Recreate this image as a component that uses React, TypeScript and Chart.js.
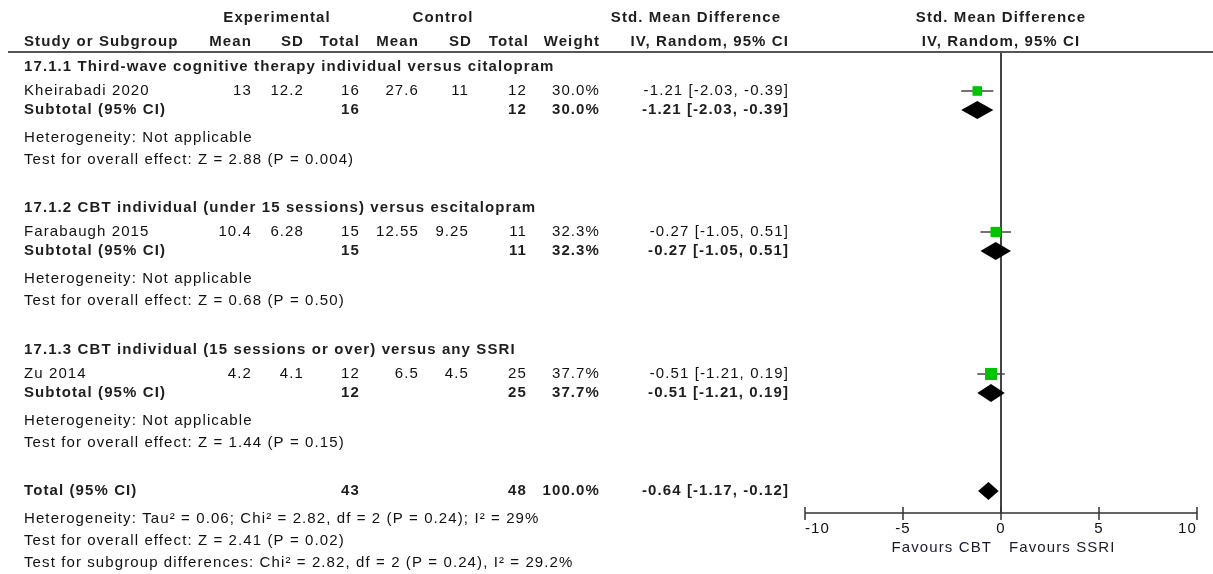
import React, { useEffect, useRef } from 'react';
import { Chart, registerables } from 'chart.js';

Chart.register(...registerables);

const W = 1213;
const H = 574;

// ---------- data ----------
const groupTitles = [
  '17.1.1 Third-wave cognitive therapy individual versus citalopram',
  '17.1.2 CBT individual (under 15 sessions) versus escitalopram',
  '17.1.3 CBT individual (15 sessions or over) versus any SSRI',
];
const studyNames = ['Kheirabadi 2020', 'Farabaugh 2015', 'Zu 2014'];
const expMean = [13, 10.4, 4.2];
const expSD = [12.2, 6.28, 4.1];
const expTotal = [16, 15, 12];
const ctrlMean = [27.6, 12.55, 6.5];
const ctrlSD = [11, 9.25, 4.5];
const ctrlTotal = [12, 11, 25];
const weights = [30.0, 32.3, 37.7];
const smd = [-1.21, -0.27, -0.51];
const ciLow = [-2.03, -1.05, -1.21];
const ciHigh = [-0.39, 0.51, 0.19];
const groupHet = ['Heterogeneity: Not applicable', 'Heterogeneity: Not applicable', 'Heterogeneity: Not applicable'];
const groupTest = [
  'Test for overall effect: Z = 2.88 (P = 0.004)',
  'Test for overall effect: Z = 0.68 (P = 0.50)',
  'Test for overall effect: Z = 1.44 (P = 0.15)',
];
const totalExp = 43;
const totalCtrl = 48;
const totalWeight = 100.0;
const totalSmd = -0.64;
const totalLow = -1.17;
const totalHigh = -0.12;
const footerLines = [
  'Heterogeneity: Tau\u00B2 = 0.06; Chi\u00B2 = 2.82, df = 2 (P = 0.24); I\u00B2 = 29%',
  'Test for overall effect: Z = 2.41 (P = 0.02)',
  'Test for subgroup differences: Chi\u00B2 = 2.82, df = 2 (P = 0.24), I\u00B2 = 29.2%',
];
const axisTicks = [-10, -5, 0, 5, 10];
const favourLeft = 'Favours CBT';
const favourRight = 'Favours SSRI';

// ---------- layout ----------
const groupTop = [67, 208, 350];
const OFF_STUDY = 24;
const OFF_SUB = 43;
const OFF_HET = 71;
const OFF_TEST = 93;
const TOTAL_Y = 491;
const FOOT_Y = [519, 541, 563];
const HEAD1_Y = 18;
const HEAD2_Y = 42;
const RULE_Y = 52;
const AXIS_Y = 513;
const LEFT_X = 24;
const col = {
  expMean: 252,
  expSD: 304,
  expTotal: 360,
  ctrlMean: 419,
  ctrlSD: 469,
  ctrlTotal: 527,
  weight: 600,
  ci: 789,
};
const GREEN = '#00c400';
const FONT = "'Liberation Sans', Arial, sans-serif";
const REG_SIZE = 15;
const BOLD_SIZE = 15;
const REG_SPACING = '1.1px';
const BOLD_SPACING = '1.1px';
const DIAMOND_HALF = 9;

const fmtCI = (e: number, l: number, h: number) => `${e.toFixed(2)} [${l.toFixed(2)}, ${h.toFixed(2)}]`;

function text(ctx: CanvasRenderingContext2D, s: string, x: number, y: number, align: CanvasTextAlign, bold = false, color?: string) {
  ctx.save();
  ctx.font = `${bold ? 'bold ' : ''}${bold ? BOLD_SIZE : REG_SIZE}px ${FONT}`;
  (ctx as any).letterSpacing = bold ? BOLD_SPACING : REG_SPACING;
  ctx.fillStyle = color || (bold ? '#1e1e1e' : '#111');
  ctx.textBaseline = 'middle';
  ctx.textAlign = align;
  ctx.fillText(s, x, y);
  ctx.restore();
}

const forestPlugin = {
  id: 'forest',
  beforeDatasetsDraw(chart: any) {
    const { ctx, scales } = chart;
    const xs = scales.x;
    const ys = scales.y;
    ctx.save();
    // zero line
    ctx.strokeStyle = '#444';
    ctx.lineWidth = 2;
    ctx.beginPath();
    ctx.moveTo(xs.getPixelForValue(0), ys.getPixelForValue(RULE_Y));
    ctx.lineTo(xs.getPixelForValue(0), ys.getPixelForValue(AXIS_Y));
    ctx.stroke();
    // CI whiskers
    ctx.strokeStyle = '#444';
    ctx.lineWidth = 1.5;
    for (let i = 0; i < smd.length; i++) {
      const y = ys.getPixelForValue(groupTop[i] + OFF_STUDY);
      ctx.beginPath();
      ctx.moveTo(xs.getPixelForValue(ciLow[i]), y);
      ctx.lineTo(xs.getPixelForValue(ciHigh[i]), y);
      ctx.stroke();
    }
    ctx.restore();
  },
  afterDatasetsDraw(chart: any) {
    const { ctx, scales } = chart;
    const xs = scales.x;
    const ys = scales.y;
    const diamond = (e: number, l: number, h: number, yv: number) => {
      const y = ys.getPixelForValue(yv);
      ctx.beginPath();
      ctx.moveTo(xs.getPixelForValue(l), y);
      ctx.lineTo(xs.getPixelForValue(e), y - DIAMOND_HALF);
      ctx.lineTo(xs.getPixelForValue(h), y);
      ctx.lineTo(xs.getPixelForValue(e), y + DIAMOND_HALF);
      ctx.closePath();
      ctx.fill();
    };
    ctx.save();
    ctx.fillStyle = '#000';
    for (let i = 0; i < smd.length; i++) diamond(smd[i], ciLow[i], ciHigh[i], groupTop[i] + OFF_SUB);
    diamond(totalSmd, totalLow, totalHigh, TOTAL_Y);
    ctx.restore();
  },
  afterDraw(chart: any) {
    const { ctx, scales } = chart;
    const xs = scales.x;
    const ys = scales.y;
    // header
    text(ctx, 'Experimental', 277, HEAD1_Y, 'center', true);
    text(ctx, 'Control', 443, HEAD1_Y, 'center', true);
    text(ctx, 'Std. Mean Difference', 696, HEAD1_Y, 'center', true);
    text(ctx, 'Std. Mean Difference', xs.getPixelForValue(0), HEAD1_Y, 'center', true);
    text(ctx, 'Study or Subgroup', LEFT_X, HEAD2_Y, 'left', true);
    text(ctx, 'Mean', col.expMean, HEAD2_Y, 'right', true);
    text(ctx, 'SD', col.expSD, HEAD2_Y, 'right', true);
    text(ctx, 'Total', col.expTotal, HEAD2_Y, 'right', true);
    text(ctx, 'Mean', col.ctrlMean, HEAD2_Y, 'right', true);
    text(ctx, 'SD', col.ctrlSD + 3, HEAD2_Y, 'right', true);
    text(ctx, 'Total', col.ctrlTotal + 2, HEAD2_Y, 'right', true);
    text(ctx, 'Weight', col.weight, HEAD2_Y, 'right', true);
    text(ctx, 'IV, Random, 95% CI', col.ci, HEAD2_Y, 'right', true);
    text(ctx, 'IV, Random, 95% CI', xs.getPixelForValue(0), HEAD2_Y, 'center', true);
    ctx.save();
    ctx.strokeStyle = '#555';
    ctx.lineWidth = 2;
    ctx.beginPath();
    ctx.moveTo(8, RULE_Y);
    ctx.lineTo(W, RULE_Y);
    ctx.stroke();
    ctx.restore();

    for (let i = 0; i < studyNames.length; i++) {
      const g = groupTop[i];
      text(ctx, groupTitles[i], LEFT_X, g, 'left', true);
      const ys1 = g + OFF_STUDY;
      text(ctx, studyNames[i], LEFT_X, ys1, 'left');
      text(ctx, String(expMean[i]), col.expMean, ys1, 'right');
      text(ctx, String(expSD[i]), col.expSD, ys1, 'right');
      text(ctx, String(expTotal[i]), col.expTotal, ys1, 'right');
      text(ctx, String(ctrlMean[i]), col.ctrlMean, ys1, 'right');
      text(ctx, String(ctrlSD[i]), col.ctrlSD, ys1, 'right');
      text(ctx, String(ctrlTotal[i]), col.ctrlTotal, ys1, 'right');
      text(ctx, weights[i].toFixed(1) + '%', col.weight, ys1, 'right');
      text(ctx, fmtCI(smd[i], ciLow[i], ciHigh[i]), col.ci, ys1, 'right');
      const ys2 = g + OFF_SUB;
      text(ctx, 'Subtotal (95% CI)', LEFT_X, ys2, 'left', true);
      text(ctx, String(expTotal[i]), col.expTotal, ys2, 'right', true);
      text(ctx, String(ctrlTotal[i]), col.ctrlTotal, ys2, 'right', true);
      text(ctx, weights[i].toFixed(1) + '%', col.weight, ys2, 'right', true);
      text(ctx, fmtCI(smd[i], ciLow[i], ciHigh[i]), col.ci, ys2, 'right', true);
      text(ctx, groupHet[i], LEFT_X, g + OFF_HET, 'left');
      text(ctx, groupTest[i], LEFT_X, g + OFF_TEST, 'left');
    }
    text(ctx, 'Total (95% CI)', LEFT_X, TOTAL_Y, 'left', true);
    text(ctx, String(totalExp), col.expTotal, TOTAL_Y, 'right', true);
    text(ctx, String(totalCtrl), col.ctrlTotal, TOTAL_Y, 'right', true);
    text(ctx, totalWeight.toFixed(1) + '%', col.weight, TOTAL_Y, 'right', true);
    text(ctx, fmtCI(totalSmd, totalLow, totalHigh), col.ci, TOTAL_Y, 'right', true);
    footerLines.forEach((s, k) => text(ctx, s, LEFT_X, FOOT_Y[k], 'left'));

    // x axis
    const ay = ys.getPixelForValue(AXIS_Y);
    const x0 = xs.getPixelForValue(axisTicks[0]);
    const x1 = xs.getPixelForValue(axisTicks[axisTicks.length - 1]);
    ctx.save();
    ctx.strokeStyle = '#333';
    ctx.lineWidth = 1.5;
    ctx.beginPath();
    ctx.moveTo(x0, ay);
    ctx.lineTo(x1, ay);
    axisTicks.forEach((t) => {
      const px = xs.getPixelForValue(t);
      ctx.moveTo(px, ay - 6);
      ctx.lineTo(px, ay + 7);
    });
    ctx.stroke();
    ctx.restore();
    axisTicks.forEach((t, k) => {
      const px = xs.getPixelForValue(t);
      const align: CanvasTextAlign = k === 0 ? 'left' : k === axisTicks.length - 1 ? 'right' : 'center';
      text(ctx, String(t), px, ay + 16, align);
    });
    const zx = xs.getPixelForValue(0);
    text(ctx, favourLeft, zx - 9, ay + 35, 'right', false, '#1a1a2e');
    text(ctx, favourRight, zx + 8, ay + 35, 'left', false, '#1a1a2e');
  },
};

export default function App() {
  const ref = useRef<HTMLCanvasElement | null>(null);
  useEffect(() => {
    if (!ref.current) return;
    const studyPoints = smd.map((v, i) => ({ x: v, y: groupTop[i] + OFF_STUDY }));
    const chart = new Chart(ref.current, {
      type: 'scatter',
      data: {
        datasets: [
          {
            label: 'Studies',
            data: studyPoints,
            pointStyle: 'rect',
            pointRadius: weights.map((w) => (w * 0.32) / Math.SQRT2),
            backgroundColor: GREEN,
            borderWidth: 0,
          },
        ],
      },
      options: {
        animation: false,
        responsive: false,
        devicePixelRatio: 1,
        events: [],
        layout: { autoPadding: false, padding: { left: 805, right: 16, top: 0, bottom: 0 } },
        scales: {
          x: { type: 'linear', min: -10, max: 10, display: false },
          y: { type: 'linear', min: 0, max: H, reverse: true, display: false },
        },
        plugins: { legend: { display: false }, tooltip: { enabled: false } },
      },
      plugins: [forestPlugin],
    });
    return () => chart.destroy();
  }, []);
  return (
    <div style={{ position: 'fixed', left: 0, top: 0, width: W, height: H, background: '#fff' }}>
      <canvas ref={ref} width={W} height={H} style={{ display: 'block' }} />
    </div>
  );
}
